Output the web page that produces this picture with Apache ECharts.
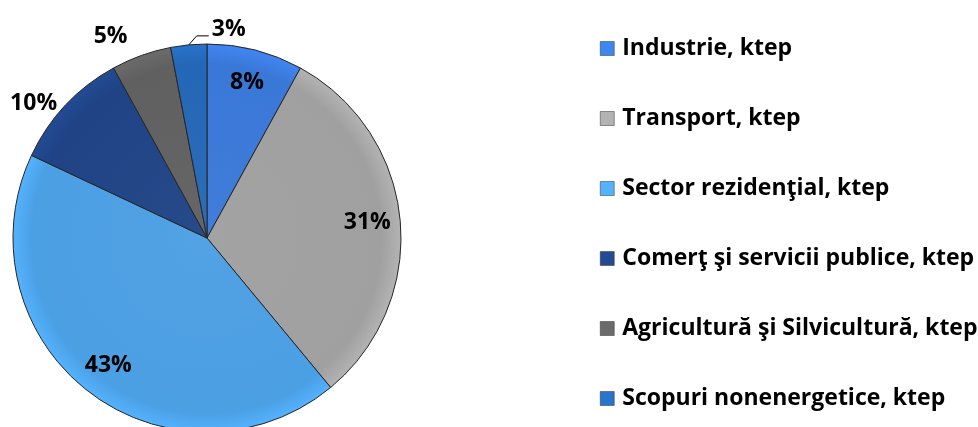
<!DOCTYPE html>
<html>
<head>
<meta charset="utf-8">
<script src="https://cdn.jsdelivr.net/npm/echarts@6/dist/echarts.min.js"></script>
<style>
  html, body { margin: 0; padding: 0; background: #fff; }
  #chart { width: 978px; height: 427px; }
</style>
</head>
<body>
<div id="chart"></div>
<script>
// date din grafic (procente)
const categories = [
  'Industrie, ktep',
  'Transport, ktep',
  'Sector rezidenţial, ktep',
  'Comerţ şi servicii publice, ktep',
  'Agricultură şi Silvicultură, ktep',
  'Scopuri nonenergetice, ktep'
]
const shares = [8, 31, 43, 10, 5, 3]
const colors = ['#3a78d8', '#a0a0a0', '#4b9fe3', '#1f4385', '#606060', '#2467b6']

const chart = echarts.init(document.getElementById('chart'))

const FONT = '"Open Sans", "Liberation Sans", sans-serif'
const CENTER = [207, 238]
const R = 194

// pozitia etichetelor pe felii
const labelMode = ['inside', 'inside', 'inside', 'outside', 'outside', 'outside']
const lineLen = [0, 0, 0, 2, 20, 8]

const sliceData = categories.map((name, i) => ({
  name,
  value: shares[i],
  itemStyle: {
    color: new echarts.graphic.RadialGradient(CENTER[0], CENTER[1], R, [
      { offset: 0, color: echarts.color.lift(colors[i], 0.04) },
      { offset: 0.9, color: colors[i] },
      { offset: 1, color: echarts.color.lift(colors[i], -0.12) }
    ], true)
  }
}))

const labelData = categories.map((name, i) => ({
  name,
  value: shares[i],
  label: { position: labelMode[i] },
  labelLine: {
    show: i === 5,
    length: lineLen[i],
    length2: 2,
    lineStyle: { color: '#000', width: 1 }
  }
}))

const option = {
  backgroundColor: '#fff',
  animation: false,
  color: colors,
  legend: {
    orient: 'vertical',
    left: 600,
    top: 37,
    padding: 0,
    itemWidth: 14,
    itemHeight: 14,
    itemGap: 47,
    icon: 'rect',
    data: categories,
    itemStyle: { borderColor: '#333', borderWidth: 0.5 },
    textStyle: {
      fontFamily: FONT,
      fontWeight: 'bold',
      fontSize: 23,
      lineHeight: 23,
      color: '#000',
      padding: [0, 0, 0, 3]
    }
  },
  series: [
    {
      type: 'pie',
      center: CENTER,
      radius: [0, R],
      startAngle: 90,
      clockwise: true,
      avoidLabelOverlap: false,
      silent: true,
      label: { show: false },
      labelLine: { show: false },
      itemStyle: { borderColor: '#262626', borderWidth: 1 },
      data: sliceData
    },
    {
      // seria transparenta doar pentru etichete
      type: 'pie',
      center: CENTER,
      radius: [122, R],
      startAngle: 90,
      clockwise: true,
      avoidLabelOverlap: false,
      silent: true,
      itemStyle: { color: 'rgba(0,0,0,0)' },
      label: {
        show: true,
        formatter: '{c}%',
        fontFamily: FONT,
        fontWeight: 'bold',
        fontSize: 23,
        color: '#000',
        distanceToLabelLine: 5
      },
      labelLayout: function (params) {
        if (params.dataIndex !== 5 || !params.labelLinePoints) return {}
        const p0 = params.labelLinePoints[0]
        const p1 = [p0[0] + 8, p0[1] - 9]
        const p2 = [p1[0] + 12, p1[1]]
        return {
          x: p2[0] + 3,
          y: p2[1] + 5,
          align: 'left',
          verticalAlign: 'bottom',
          labelLinePoints: [p0, p1, p2]
        }
      },
      data: labelData
    }
  ]
}

chart.setOption(option)
window.addEventListener('resize', () => chart.resize())
</script>
</body>
</html>
